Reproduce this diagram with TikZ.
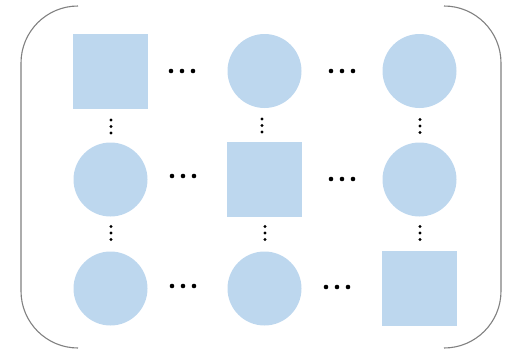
\documentclass[tikz,border=0pt]{standalone}
\definecolor{cellblue}{RGB}{189,215,238}
\begin{document}
\begin{tikzpicture}
[
    x=1pt, y=-1pt,
    cell/.style={fill=cellblue, draw=none, inner sep=0pt},
    sq/.style={cell, rectangle, minimum size=75pt},
    rnd/.style={cell, circle, minimum size=74pt},
    bracket/.style={draw=gray, line width=1.1pt, rounded corners=57pt}
]
    \useasboundingbox (0,0) rectangle (508,351);

    % brackets
    \draw [bracket] (78,6) -- (21,6) -- (21,348) -- (78,348);
    \draw [bracket] (444,6) -- (501,6) -- (501,348) -- (444,348);

    % first row
    \node [sq] (a11) at (110.5,71) {};
    \node [rnd] (a12) at (264.5,71) {};
    \node [rnd] (a13) at (419.5,71) {};

    % second row
    \node [rnd] (a21) at (110.5,179.5) {};
    \node [sq] (a22) at (264.5,179.5) {};
    \node [rnd] (a23) at (419.5,179.5) {};

    % third row
    \node [rnd] (a31) at (110.5,288.5) {};
    \node [rnd] (a32) at (264.5,288.5) {};
    \node [sq] (a33) at (419.5,288.5) {};

    % horizontal dots
    \foreach \cx/\cy in {182/71, 342/71, 183/176, 342/179, 183/286, 337/287}
        \foreach \dx in {-11,0,11}
            \fill (\cx+\dx,\cy) circle (2.3pt);

    % vertical dots
    \foreach \cx/\cy in {111/126.5, 262/125.5, 420/126, 111/233, 265/233, 420/233}
        \foreach \dy in {-6.5,0,6.5}
            \fill (\cx,\cy+\dy) circle (1.7pt);
\end{tikzpicture}
\end{document}
